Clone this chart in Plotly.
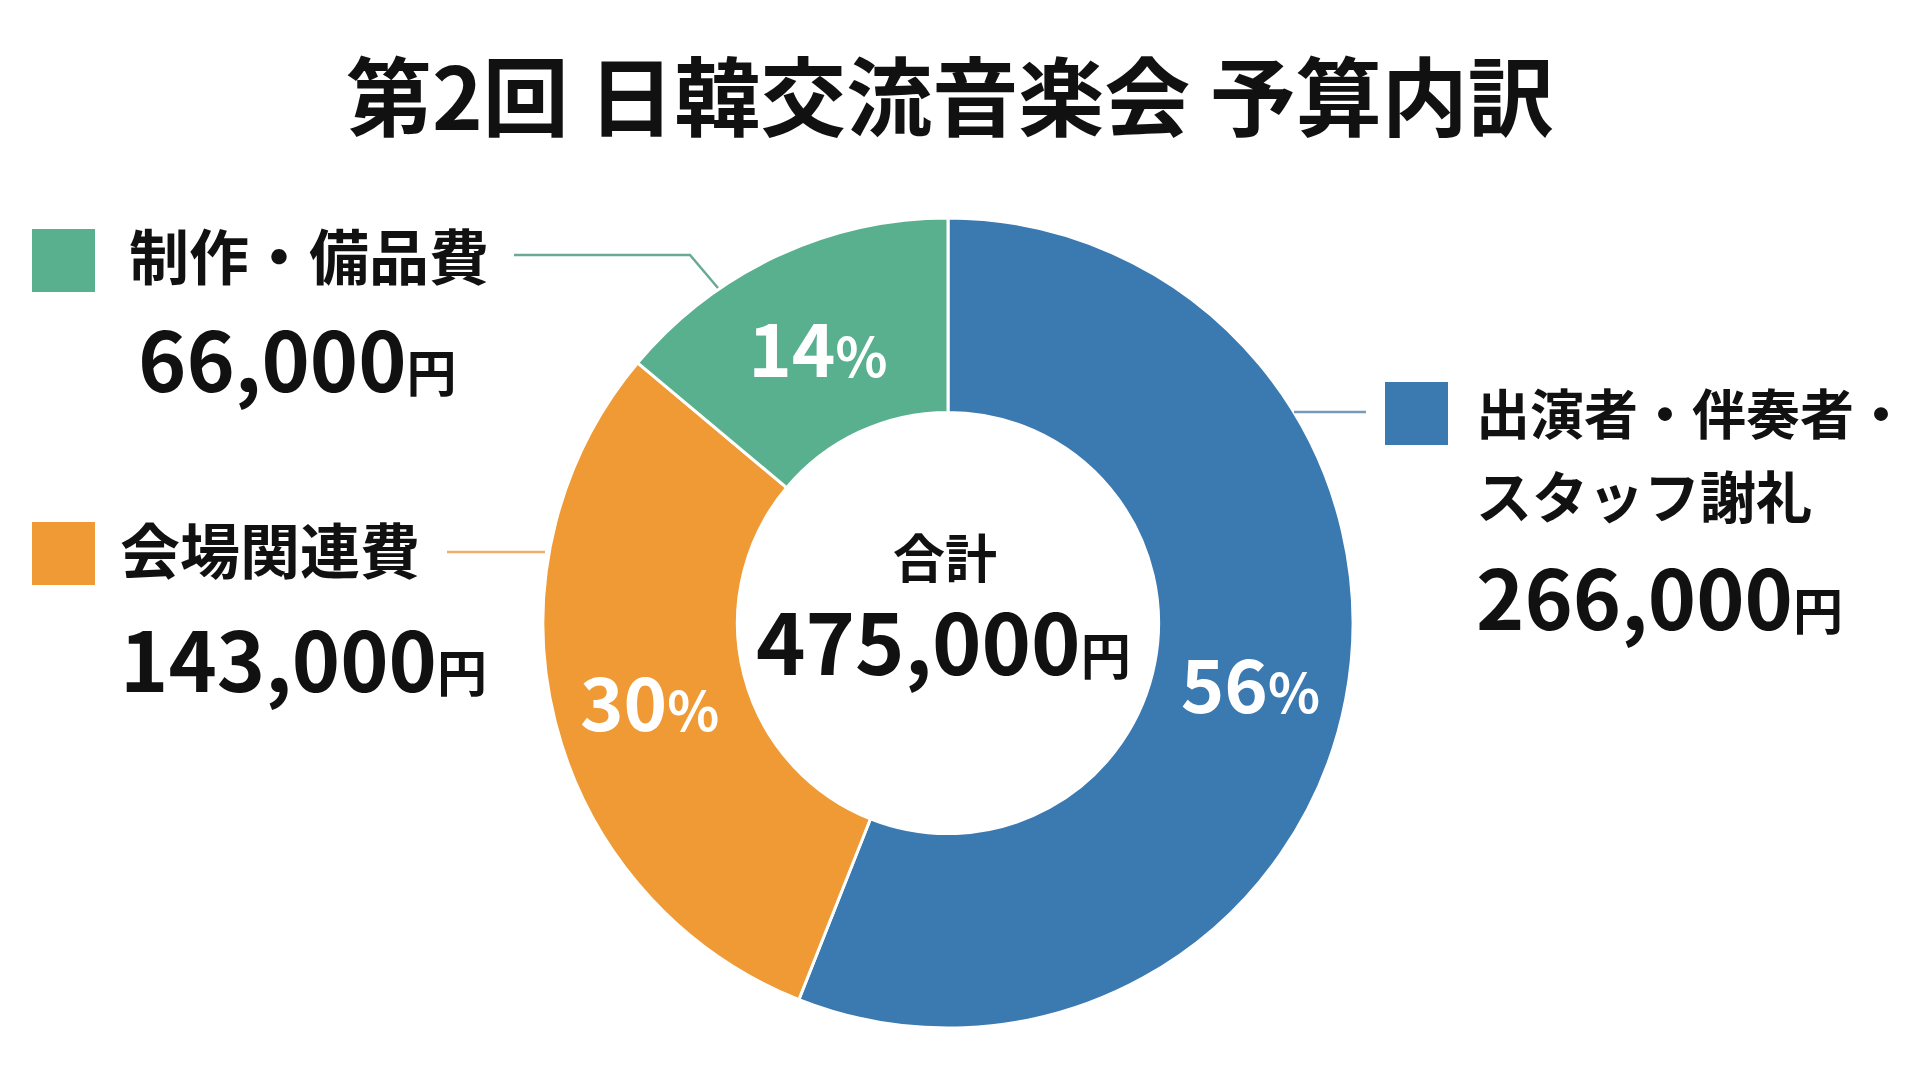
import plotly.graph_objects as go

# budget data
categories = ["出演者・伴奏者・\nスタッフ謝礼", "会場関連費", "制作・備品費"]
amounts = [266000, 143000, 66000]
colors = ["#3b79b1", "#f09a35", "#59b08f"]
line_colors = ["#7a98b8", "#f0b06a", "#6aaa92"]
title = "第2回 日韓交流音楽会 予算内訳"
total_label = "合計"

# page body has an 8px margin, so the figure is a bit smaller than the window
PAD = 8
W, H = 1920 - 2 * PAD, 1080 - 2 * PAD
FONT = "Noto Sans CJK JP"

total = sum(amounts)
percents = [round(v / total * 100) for v in amounts]

# label placement in window pixels (from top-left): swatch box, text lines, amount, leader line
swatches = [(1385, 382, 1448, 445), (32, 522, 95, 585), (32, 229, 95, 292)]
text_x = [1474, 118, 127]
text_y = [[411, 493], [547], [254]]
text_size = [[54, 56], [60], [60]]
amount_pos = [(1474, 594), (118, 656), (136, 356)]
leaders = [
    [(1294, 412), (1366, 412)],
    [(447, 552), (545, 552)],
    [(514, 255), (690, 255), (718, 288)],
]


def px(x):
    return (x - PAD) / W


def py(y):
    return 1 - (y - PAD) / H


fig = go.Figure()

cx, cy, r = 948, 623, 405
fig.add_trace(go.Pie(
    labels=[c.replace("\n", "") for c in categories],
    values=amounts,
    customdata=percents,
    sort=False,
    direction="clockwise",
    rotation=0,
    hole=0.52,
    marker=dict(colors=colors, line=dict(color="white", width=3)),
    texttemplate="%{customdata}<span style='font-size:54px'>%</span>",
    textposition="inside",
    insidetextorientation="horizontal",
    insidetextfont=dict(family=FONT, size=74, color="white", weight="bold"),
    hoverinfo="label+value+percent",
    showlegend=False,
    domain=dict(x=[px(cx - r), px(cx + r)], y=[py(cy + r), py(cy - r)]),
))

shapes = []
annotations = []

for i, cat in enumerate(categories):
    x0, y0, x1, y1 = swatches[i]
    shapes.append(dict(type="rect", xref="paper", yref="paper",
                       x0=px(x0), x1=px(x1), y0=py(y1), y1=py(y0),
                       fillcolor=colors[i], line=dict(width=0)))
    path = "M " + " L ".join(f"{px(x)},{py(y)}" for x, y in leaders[i])
    shapes.append(dict(type="path", xref="paper", yref="paper", path=path,
                       line=dict(color=line_colors[i], width=2.5)))
    for line, ly, fs in zip(cat.split("\n"), text_y[i], text_size[i]):
        annotations.append(dict(text=line, x=px(text_x[i]), y=py(ly),
                                xref="paper", yref="paper", xanchor="left", yanchor="middle",
                                showarrow=False,
                                font=dict(family=FONT, size=fs, color="#111111", weight="bold")))
    ax, ay = amount_pos[i]
    annotations.append(dict(text=f"{amounts[i]:,}<span style='font-size:50px'>円</span>",
                            x=px(ax), y=py(ay), xref="paper", yref="paper",
                            xanchor="left", yanchor="middle", showarrow=False,
                            font=dict(family=FONT, size=82, color="#111111", weight="bold")))

# centre total
annotations.append(dict(text=total_label, x=px(945), y=py(555), xref="paper", yref="paper",
                        showarrow=False, xanchor="center", yanchor="middle",
                        font=dict(family=FONT, size=52, color="#111111", weight="bold")))
annotations.append(dict(text=f"{total:,}<span style='font-size:50px'>円</span>",
                        x=px(943), y=py(638), xref="paper", yref="paper",
                        showarrow=False, xanchor="center", yanchor="middle",
                        font=dict(family=FONT, size=84, color="#111111", weight="bold")))

# title
annotations.append(dict(text=title, x=px(950), y=py(92), xref="paper", yref="paper",
                        showarrow=False, xanchor="center", yanchor="middle",
                        font=dict(family=FONT, size=86, color="#111111", weight="bold")))

fig.update_layout(
    width=W, height=H,
    margin=dict(l=0, r=0, t=0, b=0),
    paper_bgcolor="white",
    plot_bgcolor="white",
    shapes=shapes,
    annotations=annotations,
)

fig.write_html("out.html")
